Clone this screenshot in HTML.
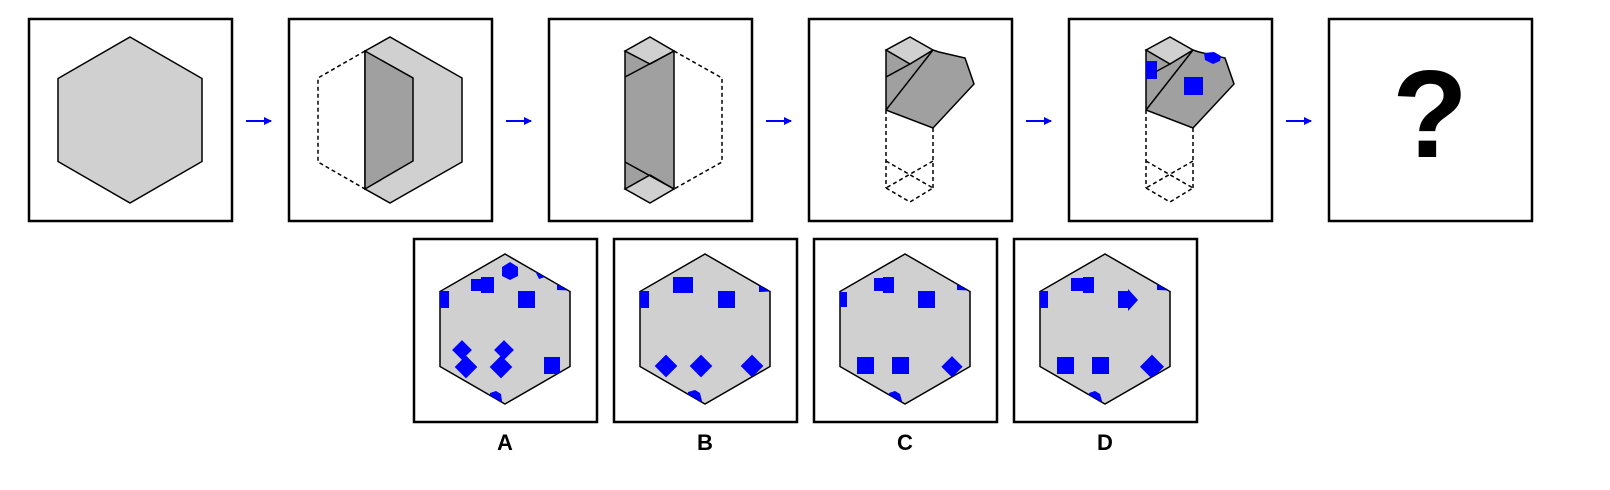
<!DOCTYPE html>
<html><head><meta charset="utf-8"><style>
html,body{margin:0;padding:0;background:#fff;width:1610px;height:490px;overflow:hidden}
svg{display:block}
text{font-family:"Liberation Sans",Arial,sans-serif;font-weight:bold}
</style></head><body>
<svg width="1610" height="490" viewBox="0 0 1610 490">
<defs>
<marker id="ah" markerWidth="8" markerHeight="8" refX="7" refY="4" orient="auto" markerUnits="userSpaceOnUse"><path d="M0,0 L8,4 L0,8 Z" fill="#0000ff"/></marker>
<clipPath id="hexclip"><polygon points="0,-75 65,-37.5 65,37.5 0,75 -65,37.5 -65,-37.5"/></clipPath>
<g id="tophex"><polygon points="0,-83 72,-41.5 72,41.5 0,83 -72,41.5 -72,-41.5"/></g>
</defs>

<g fill="none" stroke="#000" stroke-width="2.5">
<rect x="29" y="19" width="203" height="202"/>
<rect x="289" y="19" width="203" height="202"/>
<rect x="549" y="19" width="203" height="202"/>
<rect x="809" y="19" width="203" height="202"/>
<rect x="1069" y="19" width="203" height="202"/>
<rect x="1329" y="19" width="203" height="202"/>
</g>

<g stroke="#0000ff" stroke-width="2" marker-end="url(#ah)">
<line x1="246" y1="121" x2="271" y2="121"/>
<line x1="506" y1="121" x2="531" y2="121"/>
<line x1="766" y1="121" x2="791" y2="121"/>
<line x1="1026" y1="121" x2="1051" y2="121"/>
<line x1="1286" y1="121" x2="1311" y2="121"/>
</g>

<g transform="translate(130,120)" fill="#d0d0d0" stroke="#000" stroke-width="1.5">
<use href="#tophex"/>
</g>

<g stroke="#000" stroke-width="1.5">
<polygon points="365,51 390,37 462,78 462,162 390,203 365,189" fill="#d0d0d0"/>
<polygon points="365,51 413,78 413,161 365,189" fill="#a0a0a0"/>
<polyline points="365,51 318,78 318,162 365,189" fill="none" stroke-dasharray="4,3"/>
</g>

<g stroke="#000" stroke-width="1.5">
<polygon points="625,51 674,51 674,189 625,189" fill="#a0a0a0"/>
<polygon points="625,51 650,37 674,51 650,64" fill="#d0d0d0"/>
<polygon points="625,189 650,175 674,189 650,203" fill="#d0d0d0"/>
<line x1="625" y1="77" x2="674" y2="51"/>
<line x1="625" y1="162" x2="674" y2="189"/>
<polyline points="674,51 722,78 722,162 674,189" fill="none" stroke-dasharray="4,3"/>
</g>

<g stroke="#000" stroke-width="1.5">
<polygon points="886,50 933,50 939,52 965,58 974,84 933,128 886,110" fill="#a0a0a0"/>
<polygon points="886,50 910,37 933,50 910,64" fill="#d0d0d0"/>
<line x1="886" y1="77" x2="910" y2="64"/>
<line x1="886" y1="110" x2="933" y2="50"/>
<g fill="none" stroke-dasharray="4,3">
<line x1="886" y1="110" x2="886" y2="188"/><line x1="933" y1="128" x2="933" y2="188"/>
<line x1="886" y1="161" x2="933" y2="188"/><line x1="933" y1="161" x2="886" y2="188"/>
<polyline points="886,188 910,202 933,188"/>
</g>
</g>

<g stroke="#000" stroke-width="1.5">
<polygon points="1146,50 1193,50 1199,52 1225,58 1234,84 1193,128 1146,110" fill="#a0a0a0"/>
<polygon points="1146,50 1170,37 1193,50 1170,64" fill="#d0d0d0"/>
<line x1="1146" y1="77" x2="1170" y2="64"/>
<line x1="1146" y1="110" x2="1193" y2="50"/>
<g fill="none" stroke-dasharray="4,3">
<line x1="1146" y1="110" x2="1146" y2="188"/><line x1="1193" y1="128" x2="1193" y2="188"/>
<line x1="1146" y1="161" x2="1193" y2="188"/><line x1="1193" y1="161" x2="1146" y2="188"/>
<polyline points="1146,188 1170,202 1193,188"/>
</g>
<g fill="#0000ff" stroke="none">
<rect x="1146" y="61" width="11" height="18"/>
<rect x="1184" y="77" width="19" height="18"/>
<polygon points="1204,53 1214,52 1221,56 1220,61 1213,64 1205,60"/>
</g>
</g>

<text x="1430" y="157" font-size="124" text-anchor="middle" fill="#000">?</text>

<g fill="none" stroke="#000" stroke-width="2.5">
<rect x="414" y="239" width="183" height="183"/>
<rect x="614" y="239" width="183" height="183"/>
<rect x="814" y="239" width="183" height="183"/>
<rect x="1014" y="239" width="183" height="183"/>
</g>

<g transform="translate(505,329)">
<polygon points="0,-75 65,-37.5 65,37.5 0,75 -65,37.5 -65,-37.5" fill="#d0d0d0" stroke="#000" stroke-width="1.5"/>
<g fill="#0000ff" clip-path="url(#hexclip)">
<polygon points="5,-67 13,-62 13,-53 5,-49 -3,-53 -3,-62"/>
<rect x="-34" y="-50" width="12" height="12"/><rect x="-24" y="-52" width="13" height="16"/>
<polygon points="30,-58 40,-52 34,-50"/>
<polygon points="52,-45 63,-38.6 52,-39"/>
<rect x="-67" y="-38" width="11" height="17"/>
<rect x="13" y="-38" width="17" height="17"/>
<rect x="-50" y="14" width="14" height="14" transform="rotate(45 -43 21)"/>
<rect x="-47" y="30" width="16" height="16" transform="rotate(45 -39 38)"/>
<rect x="-8" y="14" width="14" height="14" transform="rotate(45 -1 21)"/>
<rect x="-12" y="30" width="16" height="16" transform="rotate(45 -4 38)"/>
<rect x="39" y="28" width="16" height="17"/>
<polygon points="-15,64 -9,62 -4,65 -3,72 -15,72"/>
</g>
</g>

<g transform="translate(705,329)">
<polygon points="0,-75 65,-37.5 65,37.5 0,75 -65,37.5 -65,-37.5" fill="#d0d0d0" stroke="#000" stroke-width="1.5"/>
<g fill="#0000ff" clip-path="url(#hexclip)">
<rect x="-67" y="-38" width="11" height="17"/>
<rect x="-32" y="-52" width="20" height="16"/>
<rect x="13" y="-38" width="17" height="17"/>
<polygon points="54,-44 65,-37.5 54,-37"/>
<rect x="-47" y="29" width="16" height="16" transform="rotate(45 -39 37)"/>
<rect x="-12" y="29" width="16" height="16" transform="rotate(45 -4 37)"/>
<rect x="39" y="29" width="16" height="16" transform="rotate(45 47 37)"/>
<polygon points="-17,63 -10,61 -5,64 -3,72 -17,72"/>
</g>
</g>

<g transform="translate(905,329)">
<polygon points="0,-75 65,-37.5 65,37.5 0,75 -65,37.5 -65,-37.5" fill="#d0d0d0" stroke="#000" stroke-width="1.5"/>
<g fill="#0000ff" clip-path="url(#hexclip)">
<rect x="-67" y="-37" width="9" height="15"/>
<rect x="-31" y="-51" width="11" height="13"/><rect x="-22" y="-52" width="11" height="16"/>
<rect x="13" y="-38" width="17" height="17"/>
<polygon points="52,-45 63,-38.6 52,-39"/>
<rect x="-48" y="28" width="17" height="17"/>
<rect x="-13" y="28" width="17" height="17"/>
<rect x="40" y="30" width="15" height="15" transform="rotate(45 47 37)"/>
<polygon points="-16,64 -10,62 -5,65 -3,72 -16,72"/>
</g>
</g>

<g transform="translate(1105,329)">
<polygon points="0,-75 65,-37.5 65,37.5 0,75 -65,37.5 -65,-37.5" fill="#d0d0d0" stroke="#000" stroke-width="1.5"/>
<g fill="#0000ff" clip-path="url(#hexclip)">
<rect x="-67" y="-38" width="10" height="17"/>
<rect x="-34" y="-51" width="12" height="13"/><rect x="-22" y="-52" width="11" height="16"/>
<polygon points="13,-38 23,-38 23,-40 33,-29 23,-18 23,-21 13,-21"/>
<polygon points="52,-45 63,-38.6 52,-39"/>
<rect x="-48" y="28" width="17" height="17"/>
<rect x="-13" y="28" width="17" height="17"/>
<rect x="39" y="29" width="17" height="17" transform="rotate(45 47 37)"/>
<polygon points="-16,64 -10,62 -5,65 -3,72 -16,72"/>
</g>
</g>

<text x="505" y="450" font-size="22" text-anchor="middle">A</text>
<text x="705" y="450" font-size="22" text-anchor="middle">B</text>
<text x="905" y="450" font-size="22" text-anchor="middle">C</text>
<text x="1105" y="450" font-size="22" text-anchor="middle">D</text>
</svg>
</body></html>
